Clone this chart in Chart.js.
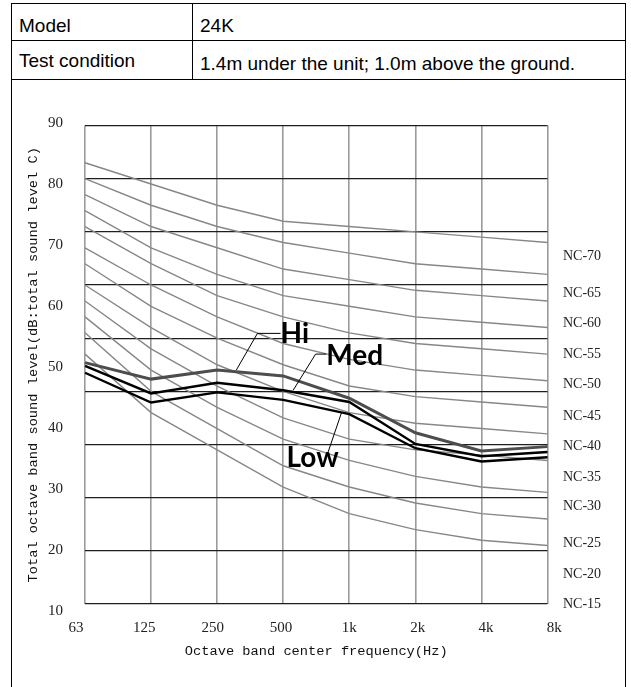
<!DOCTYPE html>
<html>
<head>
<meta charset="utf-8">
<script src="https://cdn.jsdelivr.net/npm/chart.js@4.4.1/dist/chart.umd.min.js"></script>
<style>
body{margin:0;background:#fff;}
#sheet{position:absolute;left:11px;top:3px;width:613px;height:700px;border:1px solid #000;border-bottom:none;}
#info{border-collapse:collapse;width:100%;font:19px "Liberation Sans",Arial,sans-serif;color:#000;}
#info td{border-bottom:1px solid #000;padding:0 0 0 7px;vertical-align:middle;}
#info td.name{width:173px;border-right:1px solid #000;}
#info tr.r1 td{height:28px;padding-top:8px;}
#info tr.r2 td.name{height:36px;padding-top:2px;}
#info tr.r2 td.val{height:30px;padding-top:8px;}
#wrap{position:absolute;left:0;top:80px;width:631px;height:607px;}
</style>
</head>
<body>
<div id="sheet">
  <table id="info">
    <tr class="r1"><td class="name">Model</td><td class="val">24K</td></tr>
    <tr class="r2"><td class="name">Test condition</td><td class="val">1.4m under the unit; 1.0m above the ground.</td></tr>
  </table>
</div>
<div id="wrap"><canvas id="nc" width="631" height="607"></canvas></div>
<script>
// octave bands
var freqLabels = ['63', '125', '250', '500', '1k', '2k', '4k', '8k'];

// NC reference curves (dB per band)
var nc15 = [47, 36, 29, 22, 17, 14, 12, 11];
var nc20 = [51, 40, 33, 26, 22, 19, 17, 16];
var nc25 = [54, 44, 37, 31, 27, 24, 22, 21];
var nc30 = [57, 48, 41, 35, 31, 29, 28, 27];
var nc35 = [60, 52, 45, 40, 36, 34, 33, 32];
var nc40 = [64, 56, 50, 45, 41, 39, 38, 37];
var nc45 = [67, 60, 54, 49, 46, 44, 43, 42];
var nc50 = [71, 64, 58, 54, 51, 49, 48, 47];
var nc55 = [74, 67, 62, 58, 56, 54, 53, 52];
var nc60 = [77, 71, 67, 63, 61, 59, 58, 57];
var nc65 = [80, 75, 71, 68, 66, 64, 63, 62];
var nc70 = [83, 79, 75, 72, 71, 70, 69, 68];

// measured fan speeds
var hiLevel  = [45.4, 42.3, 44.0, 42.9, 38.7, 32.2, 28.8, 29.6];
var medLevel = [44.8, 39.6, 41.6, 40.2, 38.0, 30.1, 27.8, 28.6];
var lowLevel = [43.5, 37.9, 39.8, 38.4, 35.7, 29.3, 26.8, 27.6];

// axis labels
var yTickLabels = [10, 20, 30, 40, 50, 60, 70, 80, 90];
var ncNames  = ['NC-15', 'NC-20', 'NC-25', 'NC-30', 'NC-35', 'NC-40', 'NC-45', 'NC-50', 'NC-55', 'NC-60', 'NC-65', 'NC-70'];
var ncLevels = [0, 5.5, 11.4, 18.3, 23.8, 29.7, 35.3, 41.3, 47.0, 52.7, 58.5, 65.3];

var ncCurves = [nc15, nc20, nc25, nc30, nc35, nc40, nc45, nc50, nc55, nc60, nc65, nc70];

// callout text + leader path, in (band index, dB)
var callouts = [
    {text: 'Hi',  path: [[2.29, 44.0], [2.61, 50.9], [2.96, 50.9]], at: [2.96, 49.1]},
    {text: 'Med', path: [[3.15, 40.2], [3.49, 47.0], [3.65, 47.0]], at: [3.65, 44.95]},
    {text: 'Low', path: [[3.88, 35.9], [3.68, 28.6]], at: [3.05, 25.8]}
];

var datasets = [
    {label: 'Hi', data: hiLevel, borderColor: '#4d4d4d', borderWidth: 3},
    {label: 'Med', data: medLevel, borderColor: '#000', borderWidth: 2.4},
    {label: 'Low', data: lowLevel, borderColor: '#000', borderWidth: 2.4}
];
ncCurves.forEach(function(curve, i) {
    datasets.push({label: ncNames[i], data: curve, borderColor: '#878787', borderWidth: 1.4});
});
datasets.forEach(function(d) {
    d.pointRadius = 0;
    d.tension = 0;
    d.fill = false;
});

var calloutPlugin = {
    id: 'callouts',
    afterDatasetsDraw: function(chart) {
        var ctx = chart.ctx;
        var xs = chart.scales.x, ys = chart.scales.y;
        ctx.save();
        ctx.strokeStyle = '#000';
        ctx.lineWidth = 1;
        ctx.fillStyle = '#000';
        ctx.font = 'bold 28px Lato';
        ctx.textBaseline = 'alphabetic';
        ctx.textAlign = 'left';
        callouts.forEach(function(c) {
            ctx.beginPath();
            c.path.forEach(function(p, i) {
                var px = xs.getPixelForValue(p[0]), py = ys.getPixelForValue(p[1]);
                if (i === 0) ctx.moveTo(px, py); else ctx.lineTo(px, py);
            });
            ctx.stroke();
            ctx.fillText(c.text, xs.getPixelForValue(c.at[0]), ys.getPixelForValue(c.at[1]));
        });
        ctx.restore();
    }
};

var tickFont = {family: 'Liberation Serif', size: 15};
var titleFont = {family: 'Liberation Mono', size: 13.7};

new Chart(document.getElementById('nc').getContext('2d'), {
    type: 'line',
    data: {labels: freqLabels, datasets: datasets},
    options: {
        responsive: false,
        animation: false,
        devicePixelRatio: 1,
        layout: {padding: {top: 45.5, left: 0, right: 0, bottom: 0}},
        plugins: {legend: {display: false}, tooltip: {enabled: false}},
        scales: {
            x: {
                type: 'category',
                offset: false,
                ticks: {display: false},
                grid: {color: '#9b9b9b', lineWidth: 1.6, drawTicks: false},
                border: {display: false}
            },
            xl: {
                type: 'linear',
                position: 'bottom',
                min: 0.132,
                max: 6.9,
                afterBuildTicks: function(s) {
                    s.ticks = freqLabels.map(function(_, i) { return {value: i}; });
                },
                afterFit: function(s) { s.height = 83; },
                ticks: {
                    autoSkip: false, maxRotation: 0, padding: 15, font: tickFont, color: '#222',
                    callback: function(v) { return freqLabels[v]; }
                },
                grid: {display: false, drawTicks: false},
                border: {display: false},
                title: {
                    display: true, text: 'Octave band center frequency(Hz)',
                    font: titleFont, color: '#111', padding: {top: 0, bottom: 27}
                }
            },
            y: {
                min: 0,
                max: 90,
                ticks: {stepSize: 10, display: false},
                grid: {color: '#1e1e1e', lineWidth: 1.3, drawTicks: false},
                border: {display: false}
            },
            yl: {
                type: 'linear',
                position: 'left',
                min: 11.148,
                max: 89.59,
                afterBuildTicks: function(s) {
                    s.ticks = yTickLabels.map(function(v) { return {value: v}; });
                },
                afterFit: function(s) { s.width = 85; },
                ticks: {autoSkip: false, padding: 22, font: tickFont, color: '#222'},
                grid: {display: false, drawTicks: false},
                border: {display: false},
                title: {
                    display: true, text: 'Total octave band sound level(dB:total sound level C)',
                    font: titleFont, color: '#111', padding: {top: 25, bottom: 0}
                }
            },
            nc: {
                type: 'linear',
                position: 'right',
                min: 0,
                max: 90,
                afterBuildTicks: function(s) {
                    s.ticks = ncLevels.map(function(v) { return {value: v}; });
                },
                afterFit: function(s) { s.width = 83.5; },
                ticks: {
                    autoSkip: false, padding: 15.5, font: {family: 'Liberation Serif', size: 14}, color: '#222',
                    callback: function(v, i) { return ncNames[i]; }
                },
                grid: {display: false, drawTicks: false},
                border: {display: false}
            }
        }
    },
    plugins: [calloutPlugin]
});
</script>
</body>
</html>
